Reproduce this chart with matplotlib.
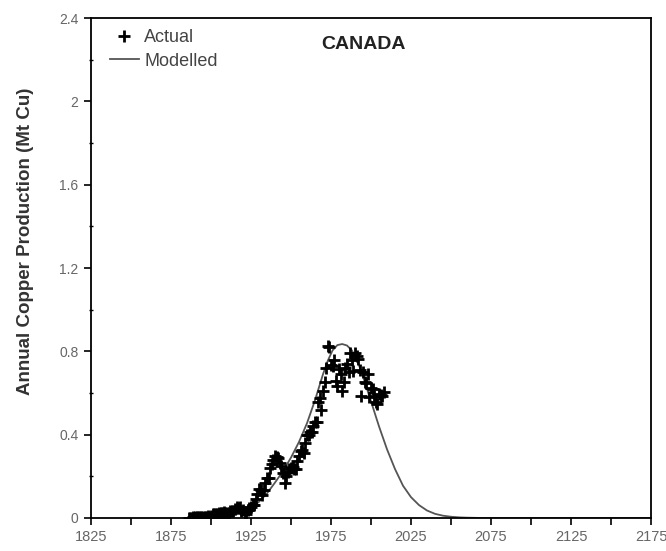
import numpy as np
import matplotlib.pyplot as plt
from matplotlib.ticker import MultipleLocator

plt.rcParams['font.family'] = ['Liberation Sans', 'DejaVu Sans']

# Actual production (Mt Cu)
actualYears = list(range(1886, 2009))
actualValues = [
    0.001, 0.002, 0.002, 0.003, 0.003, 0.004, 0.004, 0.004, 0.004, 0.004,
    0.004, 0.007, 0.008, 0.007, 0.009, 0.017, 0.017, 0.019, 0.019, 0.022,
    0.026, 0.026, 0.029, 0.024, 0.025, 0.025, 0.035, 0.035, 0.034, 0.045,
    0.054, 0.050, 0.054, 0.034, 0.037, 0.022, 0.019, 0.040, 0.048, 0.051,
    0.061, 0.063, 0.092, 0.113, 0.138, 0.133, 0.112, 0.136, 0.166, 0.190,
    0.191, 0.240, 0.260, 0.277, 0.298, 0.295, 0.286, 0.262, 0.249, 0.215,
    0.167, 0.202, 0.220, 0.235, 0.239, 0.245, 0.234, 0.234, 0.275, 0.296,
    0.322, 0.326, 0.313, 0.360, 0.398, 0.399, 0.415, 0.412, 0.442, 0.461,
    0.459, 0.557, 0.576, 0.520, 0.610, 0.655, 0.720, 0.824, 0.821, 0.734,
    0.731, 0.759, 0.659, 0.636, 0.716, 0.691, 0.612, 0.653, 0.722, 0.739,
    0.699, 0.794, 0.758, 0.704, 0.794, 0.780, 0.762, 0.709, 0.585, 0.701,
    0.652, 0.648, 0.689, 0.580, 0.622, 0.621, 0.584, 0.557, 0.546, 0.595,
    0.590, 0.585, 0.607,
]

# Modelled curve (Mt Cu)
modelYears = [1886, 1895, 1900, 1905, 1910, 1915, 1920, 1925, 1930, 1935,
              1940, 1945, 1950, 1955, 1960, 1965, 1970, 1973, 1976, 1979,
              1982, 1985, 1988, 1991, 1995, 2000, 2005, 2010, 2015, 2020,
              2025, 2030, 2035, 2040, 2045, 2050, 2055, 2060, 2070, 2080,
              2100, 2175]
modelValues = [0.0, 0.001, 0.003, 0.005, 0.009, 0.016, 0.028, 0.048, 0.078, 0.118,
               0.170, 0.225, 0.290, 0.365, 0.455, 0.565, 0.690, 0.755, 0.805, 0.830,
               0.835, 0.828, 0.805, 0.765, 0.680, 0.560, 0.440, 0.330, 0.235, 0.155,
               0.100, 0.062, 0.036, 0.020, 0.011, 0.006, 0.003, 0.0015, 0.0, 0.0,
               0.0, 0.0]

xTicks = [1825, 1875, 1925, 1975, 2025, 2075, 2125, 2175]
yTicks = [0, 0.4, 0.8, 1.2, 1.6, 2, 2.4]
yTickLabels = ['0', '0.4', '0.8', '1.2', '1.6', '2', '2.4']

fig = plt.figure(figsize=(6.66, 5.51), dpi=100)
ax = fig.add_axes([0.1366, 0.0599, 0.8409, 0.9074])

ax.plot(modelYears, modelValues, color='#555555', lw=1.3, label='Modelled', zorder=2)
ax.plot(actualYears, actualValues, linestyle='none', marker='+', color='black',
        markersize=9, mew=2.0, label='Actual', zorder=3)

ax.set_xlim(1825, 2175)
ax.set_ylim(0, 2.4)
ax.set_xticks(xTicks)
ax.set_xticklabels([str(t) for t in xTicks])
ax.xaxis.set_minor_locator(MultipleLocator(25))
ax.set_yticks(yTicks)
ax.set_yticklabels(yTickLabels)
ax.yaxis.set_minor_locator(MultipleLocator(0.2))
ax.tick_params(which='major', direction='out', length=5, width=1.2,
               labelsize=10, labelcolor='#666666', pad=4)
ax.tick_params(axis='x', which='major', labelsize=10.5)
ax.tick_params(axis='x', which='minor', direction='out', length=5, width=1.2)
ax.tick_params(axis='y', which='minor', direction='inout', length=3, width=1.0)
for s in ax.spines.values():
    s.set_linewidth(1.3)

ax.set_ylabel('Annual Copper Production (Mt Cu)', fontsize=13.5,
              fontweight='bold', color='#333333')
ax.yaxis.set_label_coords(-0.102, 0.553)

ax.text(0.487, 0.948, 'CANADA', transform=ax.transAxes, fontsize=14,
        fontweight='bold', color='#222222', ha='center', va='center')

handles, labels = ax.get_legend_handles_labels()
ax.legend(handles[::-1], labels[::-1], loc='upper left', bbox_to_anchor=(0.005, 1.01),
          frameon=False, fontsize=13, handlelength=1.6, handletextpad=0.3,
          labelspacing=0.35, labelcolor='#444444')

fig.savefig('out.png', dpi=100)
